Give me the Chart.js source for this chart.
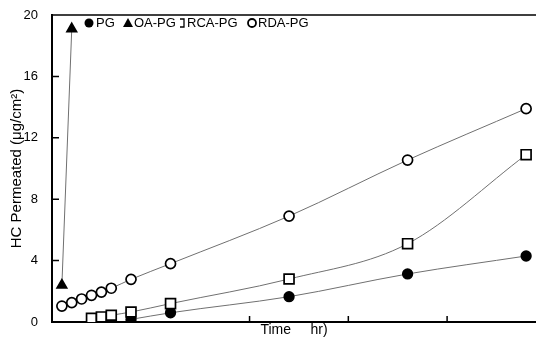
<!DOCTYPE html>
<html>
<head>
<meta charset="utf-8">
<script src="https://cdn.jsdelivr.net/npm/chart.js@4"></script>
<style>
  body { margin: 0; background: #fff; }
  #wrap { width: 536px; height: 339px; }
</style>
</head>
<body>
<div id="wrap"><canvas id="chart" width="536" height="339"></canvas></div>
<script>
// time points (hr) and permeated amounts
var rdaTimes = [1, 2, 3, 4, 5, 6, 8, 12, 24, 36, 48];
var rdaPg = [1.04, 1.26, 1.5, 1.74, 1.95, 2.2, 2.78, 3.8, 6.9, 10.55, 13.9];
var rcaTimes = [4, 5, 6, 8, 12, 24, 36, 48];
var rcaPg = [0.24, 0.33, 0.44, 0.65, 1.2, 2.8, 5.1, 10.9];
var pgTimes = [8, 12, 24, 36, 48];
var pg = [0.17, 0.6, 1.65, 3.13, 4.3];
var oaTimes = [1, 2];
var oaPg = [2.4, 19.1];
var yTicks = [0, 4, 8, 12, 16, 20];
var xTicks = [20, 30, 40];

var FONT = "'Liberation Sans', Arial, sans-serif";

function pts(xs, ys) {
  return xs.map(function(x, i) { return {x: x, y: ys[i]}; });
}

function series(label, xs, ys, style, fill, r) {
  return {
    label: label,
    data: pts(xs, ys),
    showLine: true,
    cubicInterpolationMode: 'monotone',
    borderColor: '#707070',
    borderWidth: 1,
    pointStyle: style,
    pointRadius: r,
    pointBorderColor: '#000',
    pointBackgroundColor: fill,
    pointBorderWidth: 1.7
  };
}

// inward ticks, top frame line and the in-plot legend
var frame = {
  id: 'frame',
  afterDraw: function(chart) {
    var ctx = chart.ctx;
    var a = chart.chartArea;
    var xs = chart.scales.x, ys = chart.scales.y;
    ctx.save();
    ctx.strokeStyle = '#000';
    ctx.lineWidth = 1.5;
    ctx.beginPath();
    ctx.moveTo(a.left, a.top);
    ctx.lineTo(a.right, a.top);
    yTicks.forEach(function(v) {
      var y = ys.getPixelForValue(v);
      ctx.moveTo(a.left, y);
      ctx.lineTo(a.left + 7, y);
    });
    xTicks.forEach(function(v) {
      var x = xs.getPixelForValue(v);
      ctx.moveTo(x, a.bottom);
      ctx.lineTo(x, a.bottom - 6);
    });
    ctx.stroke();

    var items = [
      {t: 'PG', mx: 89, tx: 96, s: 'fcircle'},
      {t: 'OA-PG', mx: 128, tx: 134, s: 'tri'},
      {t: 'RCA-PG', mx: 182, tx: 187, s: 'sq'},
      {t: 'RDA-PG', mx: 252, tx: 258, s: 'ocircle'}
    ];
    var ly = 23;
    ctx.font = '13px ' + FONT;
    ctx.textBaseline = 'middle';
    ctx.fillStyle = '#000';
    items.forEach(function(it) {
      ctx.beginPath();
      if (it.s === 'fcircle') {
        ctx.arc(it.mx, ly, 4.5, 0, Math.PI * 2);
        ctx.fill();
      } else if (it.s === 'tri') {
        ctx.moveTo(it.mx, ly - 5);
        ctx.lineTo(it.mx + 5, ly + 4);
        ctx.lineTo(it.mx - 5, ly + 4);
        ctx.closePath();
        ctx.fill();
      } else if (it.s === 'sq') {
        ctx.lineWidth = 1.3;
        ctx.moveTo(it.mx - 2, ly - 4);
        ctx.lineTo(it.mx + 2, ly - 4);
        ctx.lineTo(it.mx + 2, ly + 4);
        ctx.lineTo(it.mx - 2, ly + 4);
        ctx.stroke();
      } else {
        ctx.lineWidth = 1.8;
        ctx.arc(it.mx, ly, 4, 0, Math.PI * 2);
        ctx.stroke();
      }
      ctx.fillText(it.t, it.tx, ly + 0.5);
    });
    ctx.restore();
  }
};

new Chart('chart', {
  type: 'scatter',
  data: {
    datasets: [
      series('OA-PG', oaTimes, oaPg, 'triangle', '#000', 5.5),
      series('RDA-PG', rdaTimes, rdaPg, 'circle', '#fff', 5),
      series('RCA-PG', rcaTimes, rcaPg, 'rect', '#fff', 7),
      series('PG', pgTimes, pg, 'circle', '#000', 4.8)
    ]
  },
  options: {
    responsive: false,
    animation: false,
    layout: {autoPadding: false, padding: {left: 0, right: 0, top: 15, bottom: 0}},
    plugins: {
      legend: {display: false},
      tooltip: {enabled: false}
    },
    scales: {
      x: {
        type: 'linear',
        min: 0,
        max: 49,
        grid: {display: false, drawTicks: false},
        border: {display: true, color: '#000', width: 2},
        ticks: {display: false},
        title: {
          display: true,
          text: 'Time     hr)',
          color: '#000',
          font: {family: FONT, size: 14},
          padding: {top: 0, bottom: 0}
        },
        afterFit: function(s) { s.height = 17; }
      },
      y: {
        min: 0,
        max: 20,
        grid: {display: false, drawTicks: false},
        border: {display: true, color: '#000', width: 2},
        afterBuildTicks: function(s) {
          s.ticks = yTicks.map(function(v) { return {value: v}; });
        },
        ticks: {
          color: '#000',
          padding: 14,
          font: {family: FONT, size: 13}
        },
        title: {
          display: true,
          text: 'HC Permeated (\u03bcg/cm\u00b2)',
          color: '#000',
          font: {family: FONT, size: 15},
          padding: {top: 8, bottom: 0}
        },
        afterFit: function(s) {
          s.width = 52;
          s.paddingTop = 0;
          s.paddingBottom = 0;
        }
      }
    }
  },
  plugins: [frame]
});
</script>
</body>
</html>
